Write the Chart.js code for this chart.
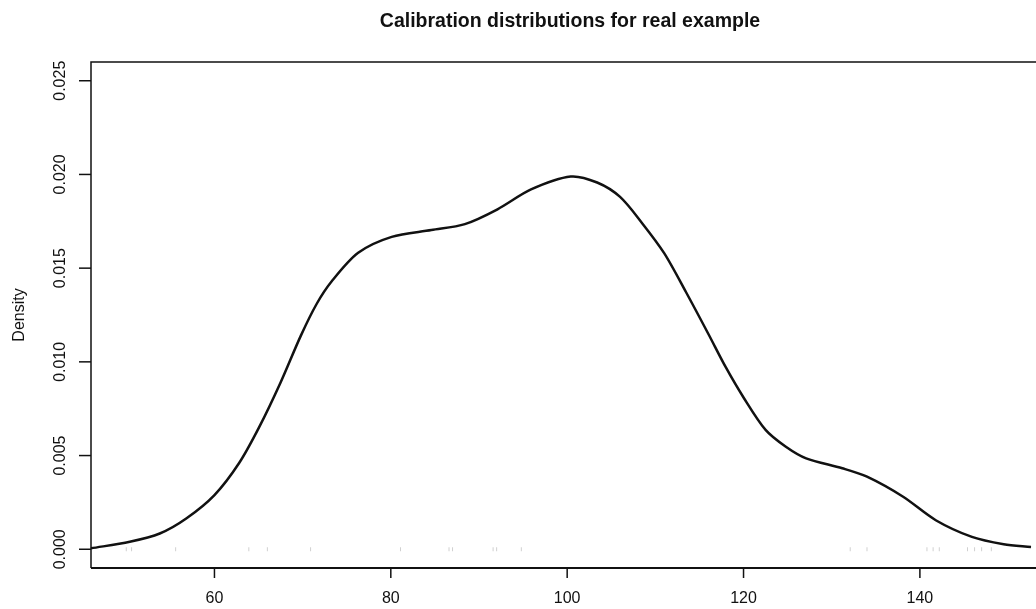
<!DOCTYPE html>
<html>
<head>
<meta charset="utf-8">
<script src="https://cdn.jsdelivr.net/npm/chart.js@4/dist/chart.umd.min.js"></script>
<style>
  html, body { margin: 0; padding: 0; background: #fff; }
  canvas { display: block; }
</style>
</head>
<body>
<canvas id="densityChart" width="1036" height="609"></canvas>
<script>
// values
const densityX = [46, 50.4, 53.8, 56.8, 60, 62.8, 65.1, 67.5, 69.8, 71.6, 73.3, 76.3, 80.1, 84.6, 88.4, 92.1, 95.9, 100.4, 103.4, 106, 108.5, 111, 113.5, 116, 118, 120, 122.5, 124.8, 127.1, 131.2, 134, 138.1, 141.8, 145.9, 149.5, 152.6];
const densityY = [0.00005, 0.0004, 0.00084, 0.00164, 0.00289, 0.0046, 0.00654, 0.0089, 0.01140, 0.0131, 0.0143, 0.01582, 0.01667, 0.01703, 0.01735, 0.01814, 0.0192, 0.01989, 0.01957, 0.0188, 0.0174, 0.0158, 0.0137, 0.0115, 0.0097, 0.0081, 0.00637, 0.00547, 0.00485, 0.00432, 0.00387, 0.0028, 0.00155, 0.00066, 0.00027, 0.00012];
const rugX = [50, 50.6, 55.6, 63.9, 66, 70.9, 81.1, 86.6, 87, 91.6, 92, 94.8, 132.1, 134, 140.8, 141.5, 142.2, 145.4, 146.2, 147, 148.1];
const xTicks = [60, 80, 100, 120, 140];
const yTicks = [0, 0.005, 0.01, 0.015, 0.02, 0.025];
const yTickLabels = ['0.000', '0.005', '0.010', '0.015', '0.020', '0.025'];

const chartTitle = 'Calibration distributions for real example';
const yTitle = 'Density';

const FONT = '"Liberation Sans", Arial, Helvetica, sans-serif';

// desenha eixos, ticks e titulo no estilo R
const rAxesPlugin = {
    id: 'rAxes',
    afterDraw(chart) {
        const { ctx, chartArea, scales } = chart;
        const xs = scales.x, ys = scales.y;
        const right = chart.width;
        ctx.save();
        ctx.strokeStyle = '#111';
        ctx.fillStyle = '#111';

        // caixa (sem borda direita, cortada no original)
        ctx.lineWidth = 1.5;
        ctx.beginPath();
        ctx.moveTo(right, chartArea.top);
        ctx.lineTo(chartArea.left, chartArea.top);
        ctx.lineTo(chartArea.left, chartArea.bottom);
        ctx.stroke();
        ctx.lineWidth = 2;
        ctx.beginPath();
        ctx.moveTo(chartArea.left, chartArea.bottom);
        ctx.lineTo(right, chartArea.bottom);
        ctx.stroke();

        // ticks do eixo y
        ctx.lineWidth = 1.5;
        ctx.font = '16px ' + FONT;
        ctx.textAlign = 'center';
        ctx.textBaseline = 'middle';
        yTicks.forEach((v, i) => {
            const py = ys.getPixelForValue(v);
            ctx.beginPath();
            ctx.moveTo(chartArea.left - 12, py);
            ctx.lineTo(chartArea.left, py);
            ctx.stroke();
            ctx.save();
            ctx.translate(61, py);
            ctx.rotate(-Math.PI / 2);
            ctx.fillText(yTickLabels[i], 0, 0);
            ctx.restore();
        });

        // ticks do eixo x
        xTicks.forEach(v => {
            const px = xs.getPixelForValue(v);
            ctx.beginPath();
            ctx.moveTo(px, chartArea.bottom);
            ctx.lineTo(px, chartArea.bottom + 10);
            ctx.stroke();
            ctx.fillText(String(v), px, 599);
        });

        // titulo do eixo y
        ctx.save();
        ctx.translate(20, (chartArea.top + chartArea.bottom) / 2);
        ctx.rotate(-Math.PI / 2);
        ctx.fillText(yTitle, 0, 0);
        ctx.restore();

        // titulo principal
        ctx.font = 'bold 19.5px ' + FONT;
        ctx.fillText(chartTitle, 570, 22);

        ctx.restore();
    }
};

new Chart(document.getElementById('densityChart'), {
    type: 'line',
    data: {
        datasets: [
            {
                label: 'density',
                data: densityX.map((x, i) => ({ x: x, y: densityY[i] })),
                borderColor: '#111',
                borderWidth: 2.5,
                pointRadius: 0,
                fill: false,
                tension: 0.3,
                clip: 4
            },
            {
                label: 'rug',
                type: 'scatter',
                data: rugX.map(x => ({ x: x, y: 0 })),
                pointStyle: 'line',
                rotation: 90,
                radius: 2,
                borderColor: '#d0d0d0',
                borderWidth: 1
            }
        ]
    },
    options: {
        responsive: false,
        animation: false,
        devicePixelRatio: 1,
        layout: { padding: { left: 91, top: 62, right: 0, bottom: 41 } },
        scales: {
            x: { type: 'linear', min: 46, max: 152.6, display: false },
            y: { type: 'linear', min: -0.001, max: 0.026, display: false }
        },
        plugins: {
            legend: { display: false },
            tooltip: { enabled: false }
        }
    },
    plugins: [rAxesPlugin]
});
</script>
</body>
</html>
